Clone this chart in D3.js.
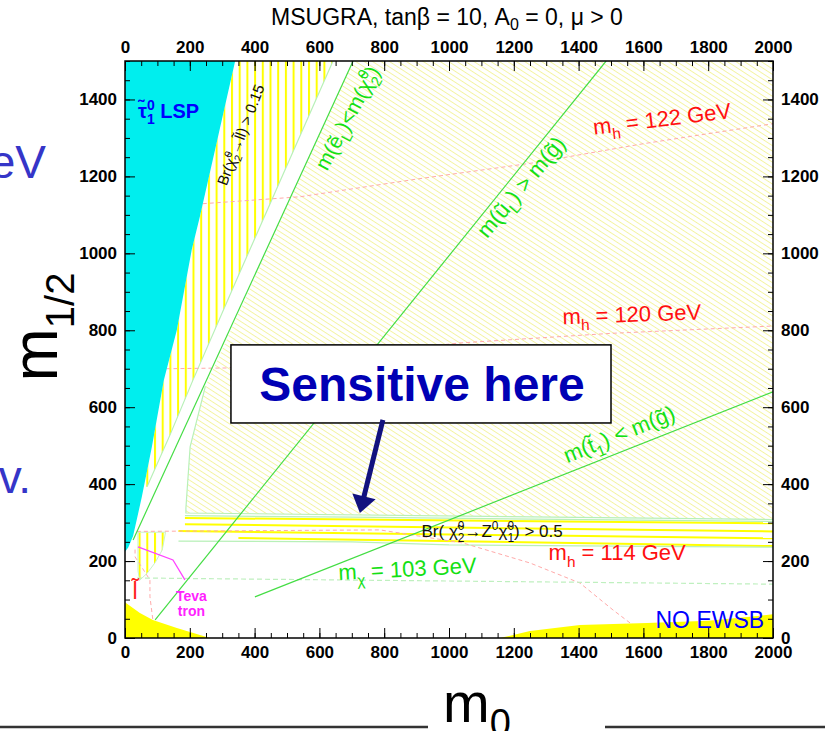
<!DOCTYPE html>
<html><head><meta charset="utf-8">
<script src="https://cdn.jsdelivr.net/npm/d3@7"></script>
<style>
html,body{margin:0;padding:0;background:#fff;}
svg{display:block;font-family:"Liberation Sans",Arial,Helvetica,sans-serif;}
</style></head><body>
<svg id="chart" width="825" height="731"></svg>
<script>
// mSUGRA plane: m0 (GeV) on x, m1/2 (GeV) on y
const xMajorTicks = [0, 200, 400, 600, 800, 1000, 1200, 1400, 1600, 1800, 2000];
const yMajorTicks = [0, 200, 400, 600, 800, 1000, 1200, 1400];

// excluded / special regions, as [m0, m1/2]
const stauLspRegion = [[0,224],[10,235],[25,265],[52,367],[83,497],[120,671],[160,801],[206,1009],[231,1095],[278,1269],[340,1500],[0,1500]];
const dileptonRegion = [[58,393],[83,497],[120,671],[160,801],[206,1009],[231,1095],[278,1269],[340,1500],[642,1500],[340,923],[210,671],[140,530],[68,393]];
const dileptonLowRegion = [[40,275],[125,275],[115,229],[93,196],[68,168],[45,150],[40,175]];
const hatchedRegion = [[704,1500],[2000,1500],[2000,308],[188,325],[188,338],[201,497],[248,654]];
const theoryRegion = [[0,0],[0,92],[3,91],[46,65],[86,47],[160,26],[262,0]];
const noEwsbRegion = [[1157,0],[1250,18],[1404,34],[1611,39],[1800,45],[1960,58],[2000,62],[2000,0]];

// Br(chi2 -> Z chi1) > 0.5 band
const brZLines = [
  [[185,312],[2000,298]],
  [[185,296],[2000,277]],
  [[165,278],[2000,259]],
  [[350,260],[2000,239]]
];
const brZOutlineTop = [[185,318],[700,314],[2000,303]];
const brZOutlineBottom = [[165,252],[700,250],[1000,242],[2000,236]];

// mass-ordering contours
const selectronLine = [[25,255],[704,1500]];
const selectronEdge = [[68,393],[140,530],[210,671],[340,923],[642,1500]];
const squarkGluinoLine = [[93,47],[1485,1500]];
const stopGluinoLine = [[401,107],[2000,640]];
const charginoLine = [[37,156],[2000,140]];
const hatchEdge = [[248,654],[201,497],[188,338],[188,325],[2000,308]];

// Higgs mass contours
const mh122 = [[240,1129],[540,1147],[900,1193],[1259,1235],[1600,1285],[2000,1337]];
const mh120 = [[128,700],[315,702],[600,728],[1034,767],[1500,792],[2000,811]];
const mh114 = [[15,277],[400,279],[787,281],[1043,247],[1250,195],[1404,143],[1506,73],[1559,39],[1590,24]];
const sleptonBound = [[31,230],[31,211],[77,151],[77,107],[86,47]];
const tevatronBound = [[40,237],[148,203],[185,151]];

// labels: [text, kind, dx(em)]
const labels = [
  {parts:[["τ\u0303"],["0","sup"],["1","sub",-0.39],[" LSP"]], at:[40,1352], angle:0, anchor:"start", color:"#0000ff", size:20, weight:"bold"},
  {parts:[["Br("],["χ\u0303"],["0","sup"],["2","sub",-0.39],["→l\u0303l) > 0.15"]], at:[372,1303], angle:-69, anchor:"middle", color:"#111", size:15},
  {parts:[["m(ẽ"],["L","sub"],[")<m("],["χ\u0303"],["0","sup"],["2","sub",-0.39],[")"]], at:[706,1343], angle:-62, anchor:"middle", color:"#14e014", size:21},
  {parts:[["m(ũ"],["L","sub"],[") > m(g\u0303)"]], at:[1240,1160], angle:-50, anchor:"middle", color:"#14e014", size:22},
  {parts:[["m(t\u0303"],["1","sub"],[") < m(g\u0303)"]], at:[1534,512], angle:-22, anchor:"middle", color:"#14e014", size:22},
  {parts:[["m"],["h","sub"],[" = 122 GeV"]], at:[1660,1330], angle:-7, anchor:"middle", color:"#ff1010", size:22},
  {parts:[["m"],["h","sub"],[" = 120 GeV"]], at:[1565,822], angle:-2, anchor:"middle", color:"#ff1010", size:22},
  {parts:[["m"],["h","sub"],[" = 114 GeV"]], at:[1519,202], angle:0, anchor:"middle", color:"#ff1010", size:22},
  {parts:[["m"],["χ","sub"],[" = 103 GeV"]], at:[873,160], angle:-3, anchor:"middle", color:"#14e014", size:22},
  {parts:[["Br( "],["χ\u0303"],["0","sup"],["2","sub",-0.39],["→Z"],["0","sup"],["χ\u0303"],["0","sup"],["1","sub",-0.39],[") > 0.5"]], at:[1133,262], angle:0, anchor:"middle", color:"#111", size:17},
  {parts:[["l\u0303"]], at:[31,101], angle:0, anchor:"middle", color:"#ff2020", size:23},
  {parts:[["Teva"]], at:[205,97], angle:0, anchor:"middle", color:"#ff22ff", size:14, weight:"bold"},
  {parts:[["tron"]], at:[205,58], angle:0, anchor:"middle", color:"#ff22ff", size:14, weight:"bold"},
  {parts:[["NO EWSB"]], at:[1805,27], angle:0, anchor:"middle", color:"#0000ff", size:23}
];

// call-out box and arrow, in [m0, m1/2]
const calloutBox = {x0:327, x1:1500, y0:559, y1:762};
const calloutArrow = [[796,567],[725,325]];

const svg = d3.select("#chart");
const x = d3.scaleLinear().domain([0, 2000]).range([125, 773]);
const y = d3.scaleLinear().domain([0, 1500]).range([638, 61]);
const line = d3.line().x(d => x(d[0])).y(d => y(d[1]));
const area = d => line(d) + "Z";

const defs = svg.append("defs");
defs.append("clipPath").attr("id", "plotClip").append("rect")
  .attr("x", x(0)).attr("y", y(1500)).attr("width", x(2000) - x(0)).attr("height", y(0) - y(1500));
const vh = defs.append("pattern").attr("id", "vhatch").attr("patternUnits", "userSpaceOnUse")
  .attr("width", 7.7).attr("height", 20);
vh.append("rect").attr("x", 0).attr("y", 0).attr("width", 2).attr("height", 20).attr("fill", "#ffff00");
const dh = defs.append("pattern").attr("id", "dhatch").attr("patternUnits", "userSpaceOnUse")
  .attr("width", 12).attr("height", 4.6).attr("patternTransform", "rotate(33)");
dh.append("line").attr("x1", 0).attr("y1", 0.5).attr("x2", 12).attr("y2", 0.5)
  .attr("stroke", "#f0f08a").attr("stroke-width", 0.8);

// slide fragments and axis titles
svg.append("text").attr("x", 46).attr("y", 178).attr("text-anchor", "end")
  .attr("font-size", 46).attr("fill", "#3535c8").text("eV");
svg.append("text").attr("x", 31).attr("y", 493).attr("text-anchor", "end")
  .attr("font-size", 46).attr("fill", "#3535c8").text("v.");
const ylab = svg.append("text").attr("transform", "translate(57,327) rotate(-90)")
  .attr("text-anchor", "middle").attr("font-size", 64).attr("fill", "#000");
ylab.append("tspan").text("m");
ylab.append("tspan").attr("font-size", 40).attr("dy", 17).text("1/2");

svg.append("line").attr("x1", 0).attr("x2", 428).attr("y1", 727).attr("y2", 727).attr("stroke", "#333").attr("stroke-width", 2.5);
svg.append("line").attr("x1", 605).attr("x2", 825).attr("y1", 727).attr("y2", 727).attr("stroke", "#333").attr("stroke-width", 2.5);
const xlab = svg.append("text").attr("x", 443).attr("y", 722).attr("font-size", 56).attr("fill", "#000");
xlab.append("tspan").text("m");
xlab.append("tspan").attr("font-size", 38).attr("dy", 14).text("0");

// title
const title = svg.append("text").attr("x", 447).attr("y", 25).attr("text-anchor", "middle")
  .attr("font-size", 23).attr("fill", "#000");
title.append("tspan").text("MSUGRA, tanβ = 10, A");
title.append("tspan").attr("font-size", 16).attr("dy", 5).text("0");
title.append("tspan").attr("dy", -5).text(" = 0, μ > 0");

const plot = svg.append("g").attr("clip-path", "url(#plotClip)");

// regions
plot.append("path").attr("d", area(hatchedRegion)).attr("fill", "url(#dhatch)");
plot.append("path").attr("d", area(dileptonRegion)).attr("fill", "url(#vhatch)");
plot.append("path").attr("d", area(dileptonLowRegion)).attr("fill", "url(#vhatch)");
plot.append("path").attr("d", area(dileptonLowRegion)).attr("fill", "none").attr("stroke", "#c8f4c8").attr("stroke-width", 1);

// Br(chi2 -> Z chi1) band
brZLines.forEach(l => plot.append("path").attr("d", line(l)).attr("fill", "none")
  .attr("stroke", "#ffff00").attr("stroke-width", 2));
[brZOutlineTop, brZOutlineBottom].forEach(l => plot.append("path").attr("d", line(l)).attr("fill", "none")
  .attr("stroke", "#b8f0b8").attr("stroke-width", 1.2));

// light-green region edges
[hatchEdge, selectronEdge].forEach(l => plot.append("path").attr("d", line(l)).attr("fill", "none")
  .attr("stroke", "#b8f0b8").attr("stroke-width", 1.2));

// Higgs contours
[mh122, mh120, mh114, sleptonBound].forEach(l => plot.append("path").attr("d", line(l)).attr("fill", "none")
  .attr("stroke", "#ffaaaa").attr("stroke-width", 1).attr("stroke-dasharray", "4,3"));

// chargino mass contour
plot.append("path").attr("d", line(charginoLine)).attr("fill", "none")
  .attr("stroke", "#bff0bf").attr("stroke-width", 1.2).attr("stroke-dasharray", "5,3");

// mass-ordering lines
[selectronLine, squarkGluinoLine, stopGluinoLine].forEach(l => plot.append("path").attr("d", line(l))
  .attr("fill", "none").attr("stroke", "#44dd44").attr("stroke-width", 1.2));

// Tevatron limit
plot.append("path").attr("d", line(tevatronBound)).attr("fill", "none")
  .attr("stroke", "#ff44ff").attr("stroke-width", 1.3);

// solid regions
plot.append("path").attr("d", area(stauLspRegion)).attr("fill", "#00eeee");
plot.append("path").attr("d", area(theoryRegion)).attr("fill", "#ffff00");
plot.append("path").attr("d", area(noEwsbRegion)).attr("fill", "#ffff00");

// labels
function rich(t, parts, fs) {
  let shift = 0;
  parts.forEach(p => {
    const [str, kind, dx] = p;
    let target = 0, size = fs;
    if (kind === "sub") { target = 0.3 * fs; size = 0.7 * fs; }
    if (kind === "sup") { target = -0.42 * fs; size = 0.7 * fs; }
    const ts = t.append("tspan").attr("font-size", size).attr("dy", target - shift).text(str);
    if (dx) ts.attr("dx", dx * fs);
    shift = target;
  });
}
labels.forEach(l => {
  const t = svg.append("text")
    .attr("transform", `translate(${x(l.at[0])},${y(l.at[1])}) rotate(${l.angle})`)
    .attr("text-anchor", l.anchor).attr("fill", l.color).attr("font-size", l.size)
    .attr("font-weight", l.weight || "normal");
  rich(t, l.parts, l.size);
});

// axes: minor ticks every 50, major every 200
const minorX = d3.range(0, 2001, 50), minorY = d3.range(0, 1501, 50);
function axes(gen, scale, major, minor, tr) {
  const g1 = svg.append("g").attr("transform", tr)
    .call(gen(scale).tickValues(minor).tickSize(-5).tickSizeOuter(0).tickFormat(""));
  const g2 = svg.append("g").attr("transform", tr)
    .call(gen(scale).tickValues(major).tickSize(-10).tickSizeOuter(0).tickPadding(8).tickFormat(d3.format("d")));
  [g1, g2].forEach(g => {
    g.select(".domain").remove();
    g.selectAll("line").attr("stroke", "#000").attr("stroke-width", 1);
    g.selectAll("text").attr("font-size", 17).attr("font-weight", "bold")
      .attr("font-family", "'Liberation Sans',Arial,sans-serif").attr("fill", "#000");
  });
}
axes(d3.axisBottom, x, xMajorTicks, minorX, `translate(0,${y(0)})`);
axes(d3.axisTop, x, xMajorTicks, minorX, `translate(0,${y(1500)})`);
axes(d3.axisLeft, y, yMajorTicks, minorY, `translate(${x(0)},0)`);
axes(d3.axisRight, y, yMajorTicks, minorY, `translate(${x(2000)},0)`);

svg.append("rect").attr("x", x(0)).attr("y", y(1500)).attr("width", x(2000) - x(0)).attr("height", y(0) - y(1500))
  .attr("fill", "none").attr("stroke", "#000").attr("stroke-width", 1.5);

// call-out
svg.append("rect").attr("x", x(calloutBox.x0)).attr("y", y(calloutBox.y1))
  .attr("width", x(calloutBox.x1) - x(calloutBox.x0)).attr("height", y(calloutBox.y0) - y(calloutBox.y1))
  .attr("fill", "#fff").attr("stroke", "#000").attr("stroke-width", 1.5);
svg.append("text").attr("x", (x(calloutBox.x0) + x(calloutBox.x1)) / 2 + 1).attr("y", (y(calloutBox.y0) + y(calloutBox.y1)) / 2 + 17)
  .attr("text-anchor", "middle").attr("font-size", 48).attr("font-weight", "bold").attr("fill", "#0000b4")
  .text("Sensitive here");
const [a0, a1] = calloutArrow.map(p => [x(p[0]), y(p[1])]);
const ang = Math.atan2(a1[1] - a0[1], a1[0] - a0[0]);
const ux = Math.cos(ang), uy = Math.sin(ang), px = -uy, py = ux;
const headLen = 17, headW = 12;
const base = [a1[0] - ux * headLen, a1[1] - uy * headLen];
svg.append("line").attr("x1", a0[0]).attr("y1", a0[1]).attr("x2", base[0] + ux * 2).attr("y2", base[1] + uy * 2)
  .attr("stroke", "#12127e").attr("stroke-width", 5);
svg.append("path").attr("d", `M${a1[0]},${a1[1]}L${base[0] + px * headW},${base[1] + py * headW}L${base[0] - px * headW},${base[1] - py * headW}Z`)
  .attr("fill", "#12127e");
</script>
</body></html>
